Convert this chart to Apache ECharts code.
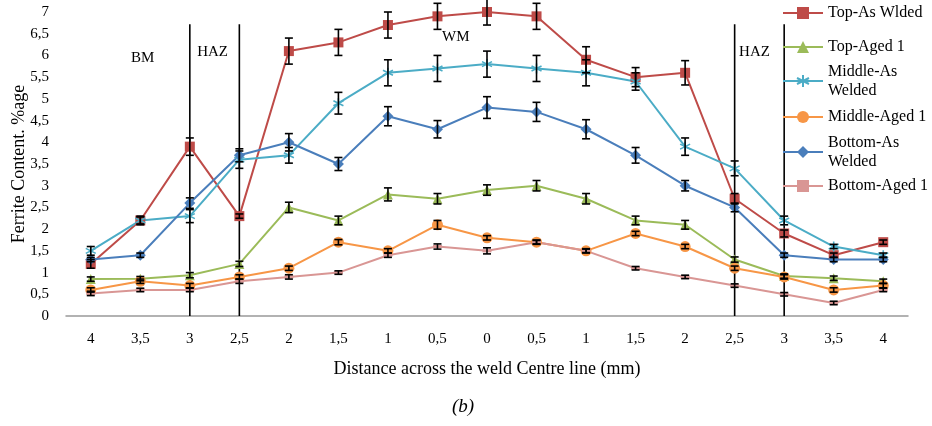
<!DOCTYPE html>
<html><head><meta charset="utf-8">
<script src="https://cdn.jsdelivr.net/npm/echarts@6/dist/echarts.min.js"></script>
<style>html,body{margin:0;padding:0;background:#fff}#c{width:932px;height:426px}</style>
</head><body><div id="c"></div>
<script>
const categories = ['4','3,5','3','2,5','2','1,5','1','0,5','0','0,5','1','1,5','2','2,5','3','3,5','4'];
const seriesNames = ['Top-As Wlded','Top-Aged 1','Middle-As Welded','Middle-Aged 1','Bottom-As Welded','Bottom-Aged 1'];
const topAsWelded    = [1.2,2.2,3.9,2.3,6.1,6.3,6.7,6.9,7.0,6.9,5.9,5.5,5.6,2.7,1.9,1.4,1.7];
const topAged1       = [0.85,0.86,0.94,1.2,2.5,2.2,2.8,2.7,2.9,3.0,2.7,2.2,2.1,1.3,0.92,0.87,0.8];
const middleAsWelded = [1.5,2.2,2.3,3.6,3.7,4.9,5.6,5.7,5.8,5.7,5.6,5.4,3.9,3.4,2.2,1.6,1.4];
const middleAged1    = [0.6,0.8,0.7,0.9,1.1,1.7,1.5,2.1,1.8,1.7,1.5,1.9,1.6,1.1,0.9,0.6,0.7];
const bottomAsWelded = [1.3,1.4,2.6,3.7,4.0,3.5,4.6,4.3,4.8,4.7,4.3,3.7,3.0,2.5,1.4,1.3,1.3];
const bottomAged1    = [0.52,0.6,0.6,0.8,0.9,1.0,1.4,1.6,1.5,1.7,1.5,1.1,0.9,0.7,0.5,0.3,0.6];
const errTopAsWelded    = [0.1,0.1,0.2,0.05,0.3,0.3,0.3,0.3,0.3,0.3,0.3,0.22,0.28,0.12,0.08,0.05,0.05];
const errTopAged1       = [0.05,0.05,0.06,0.06,0.12,0.1,0.15,0.12,0.12,0.12,0.12,0.1,0.1,0.06,0.05,0.05,0.05];
const errMiddleAsWelded = [0.1,0.08,0.15,0.2,0.18,0.25,0.3,0.3,0.3,0.3,0.3,0.2,0.2,0.17,0.1,0.05,0.05];
const errMiddleAged1    = [0.05,0.05,0.05,0.05,0.05,0.06,0.05,0.1,0.05,0.05,0.05,0.05,0.05,0.05,0.05,0.05,0.05];
const errBottomAsWelded = [0.05,0.05,0.12,0.15,0.2,0.15,0.22,0.2,0.25,0.22,0.22,0.18,0.12,0.1,0.05,0.05,0.05];
const errBottomAged1    = [0.05,0.04,0.04,0.05,0.05,0.04,0.05,0.06,0.07,0.04,0.04,0.04,0.04,0.04,0.04,0.04,0.04];
const yTicks = [0,0.5,1,1.5,2,2.5,3,3.5,4,4.5,5,5.5,6,6.5,7];
const zoneLineIdx = [2,3,13,14];
const zoneLineTop = 6.72;
const zoneLabels = [['BM',1.05,5.94],['HAZ',2.46,6.08],['WM',7.37,6.42],['HAZ',13.4,6.08]];

const values = [topAsWelded, topAged1, middleAsWelded, middleAged1, bottomAsWelded, bottomAged1];
const errs = [errTopAsWelded, errTopAged1, errMiddleAsWelded, errMiddleAged1, errBottomAsWelded, errBottomAged1];
const colors = ['#BE4B48','#9BBB59','#4BACC6','#F79646','#4A7EBB','#D99694'];
const symbols = ['rect','triangle','path://M0,-10L0,10M-8.66,-5L8.66,5M-8.66,5L8.66,-5','circle','diamond','rect'];
const symbolSizes = [10,10,10,11,11,[9,3]];
const font = 'Liberation Serif';

const chart = echarts.init(document.getElementById('c'));
const series = values.map((v,i)=>({
  name: seriesNames[i], type:'line', data:v, symbol:symbols[i], symbolSize:symbolSizes[i],
  showAllSymbol:true, z: 3,
  lineStyle:{color:colors[i], width:2},
  itemStyle:{color:colors[i], borderColor:colors[i], borderWidth: i===2?1.6:0, opacity:1},
  emphasis:{disabled:true}, animation:false
}));
const errData = [];
values.forEach((v,i)=>v.forEach((y,j)=>errData.push([j,y,errs[i][j]])));
series.push({
  type:'custom', name:'err', z:4, data:errData, animation:false, silent:true,
  renderItem:(p,api)=>{
    const x=api.value(0), y=api.value(1), e=api.value(2);
    const a=api.coord([x,y+e]), b=api.coord([x,y-e]);
    const st={stroke:'#000', lineWidth:1.6};
    return {type:'group', children:[
      {type:'line', shape:{x1:a[0],y1:a[1],x2:b[0],y2:b[1]}, style:st},
      {type:'line', shape:{x1:a[0]-4,y1:a[1],x2:a[0]+4,y2:a[1]}, style:st},
      {type:'line', shape:{x1:b[0]-4,y1:b[1],x2:b[0]+4,y2:b[1]}, style:st}
    ]};
  }
});
series.push({
  type:'custom', name:'zones', z:2, data:zoneLineIdx.map(i=>[i,zoneLineTop]), animation:false, silent:true,
  renderItem:(p,api)=>{
    const a=api.coord([api.value(0),api.value(1)]), b=api.coord([api.value(0),0]);
    return {type:'line', shape:{x1:a[0],y1:a[1],x2:b[0],y2:b[1]}, style:{stroke:'#000', lineWidth:1.6}};
  }
});
series.push({
  type:'custom', name:'zonelabels', z:2, xAxisIndex:1, data:zoneLabels.map(z=>[z[1],z[2]]), animation:false, silent:true,
  renderItem:(p,api)=>{
    const a=api.coord([api.value(0),api.value(1)]);
    return {type:'text', x:a[0], y:a[1], style:{text:zoneLabels[p.dataIndex][0], fill:'#000', font:'15px "'+font+'"', align:'center', verticalAlign:'middle'}};
  }
});

const legendTops = [3.5,37.5,52.5,107.5,123.5,176.5];
const legendFmt = ['Top-As Wlded','Top-Aged 1','Middle-As\nWelded','Middle-Aged 1','Bottom-As\nWelded','Bottom-Aged 1'];
const legends = seriesNames.map((n,i)=>({
  data:[n], left:782, top:legendTops[i], orient:'vertical', padding:0, itemWidth:40, itemHeight:15,
  itemGap:0, selectedMode:false,
  formatter:()=>legendFmt[i],
  textStyle:{fontFamily:font, fontSize:16, color:'#000', lineHeight:19, padding: legendFmt[i].includes('\n')?[19,0,0,0]:0}
}));

chart.setOption({
  animation:false,
  backgroundColor:'#fff',
  title:{text:'(b)', left:447, top:392, textStyle:{fontFamily:font, fontStyle:'italic', fontWeight:'normal', fontSize:19, color:'#000'}},
  legend: legends,
  grid:{left:66, right:24, top:12, bottom:110, containLabel:false, outerBoundsMode:'none'},
  xAxis:[{type:'category', data:categories, boundaryGap:true,
    axisLine:{lineStyle:{color:'#999', width:1.5}}, axisTick:{show:false},
    axisLabel:{fontFamily:font, fontSize:15, color:'#000', margin:16, interval:0},
    name:'Distance across the weld Centre line (mm)', nameLocation:'middle', nameGap:44,
    nameTextStyle:{fontFamily:font, fontSize:18, color:'#000'}},
    {type:'value', min:-0.5, max:16.5, show:false}],
  yAxis:{type:'value', min:yTicks[0], max:yTicks[yTicks.length-1], interval:0.5,
    axisLine:{show:false}, axisTick:{show:false}, splitLine:{show:false},
    axisLabel:{fontFamily:font, fontSize:15, color:'#000', margin:17, formatter:v=>String(v).replace('.',',')},
    name:'Ferrite Content. %age', nameLocation:'middle', nameGap:38, nameRotate:90, nameMoveOverlap:false,
    nameTextStyle:{fontFamily:font, fontSize:18, color:'#000'}},
  series: series
});
</script></body></html>
